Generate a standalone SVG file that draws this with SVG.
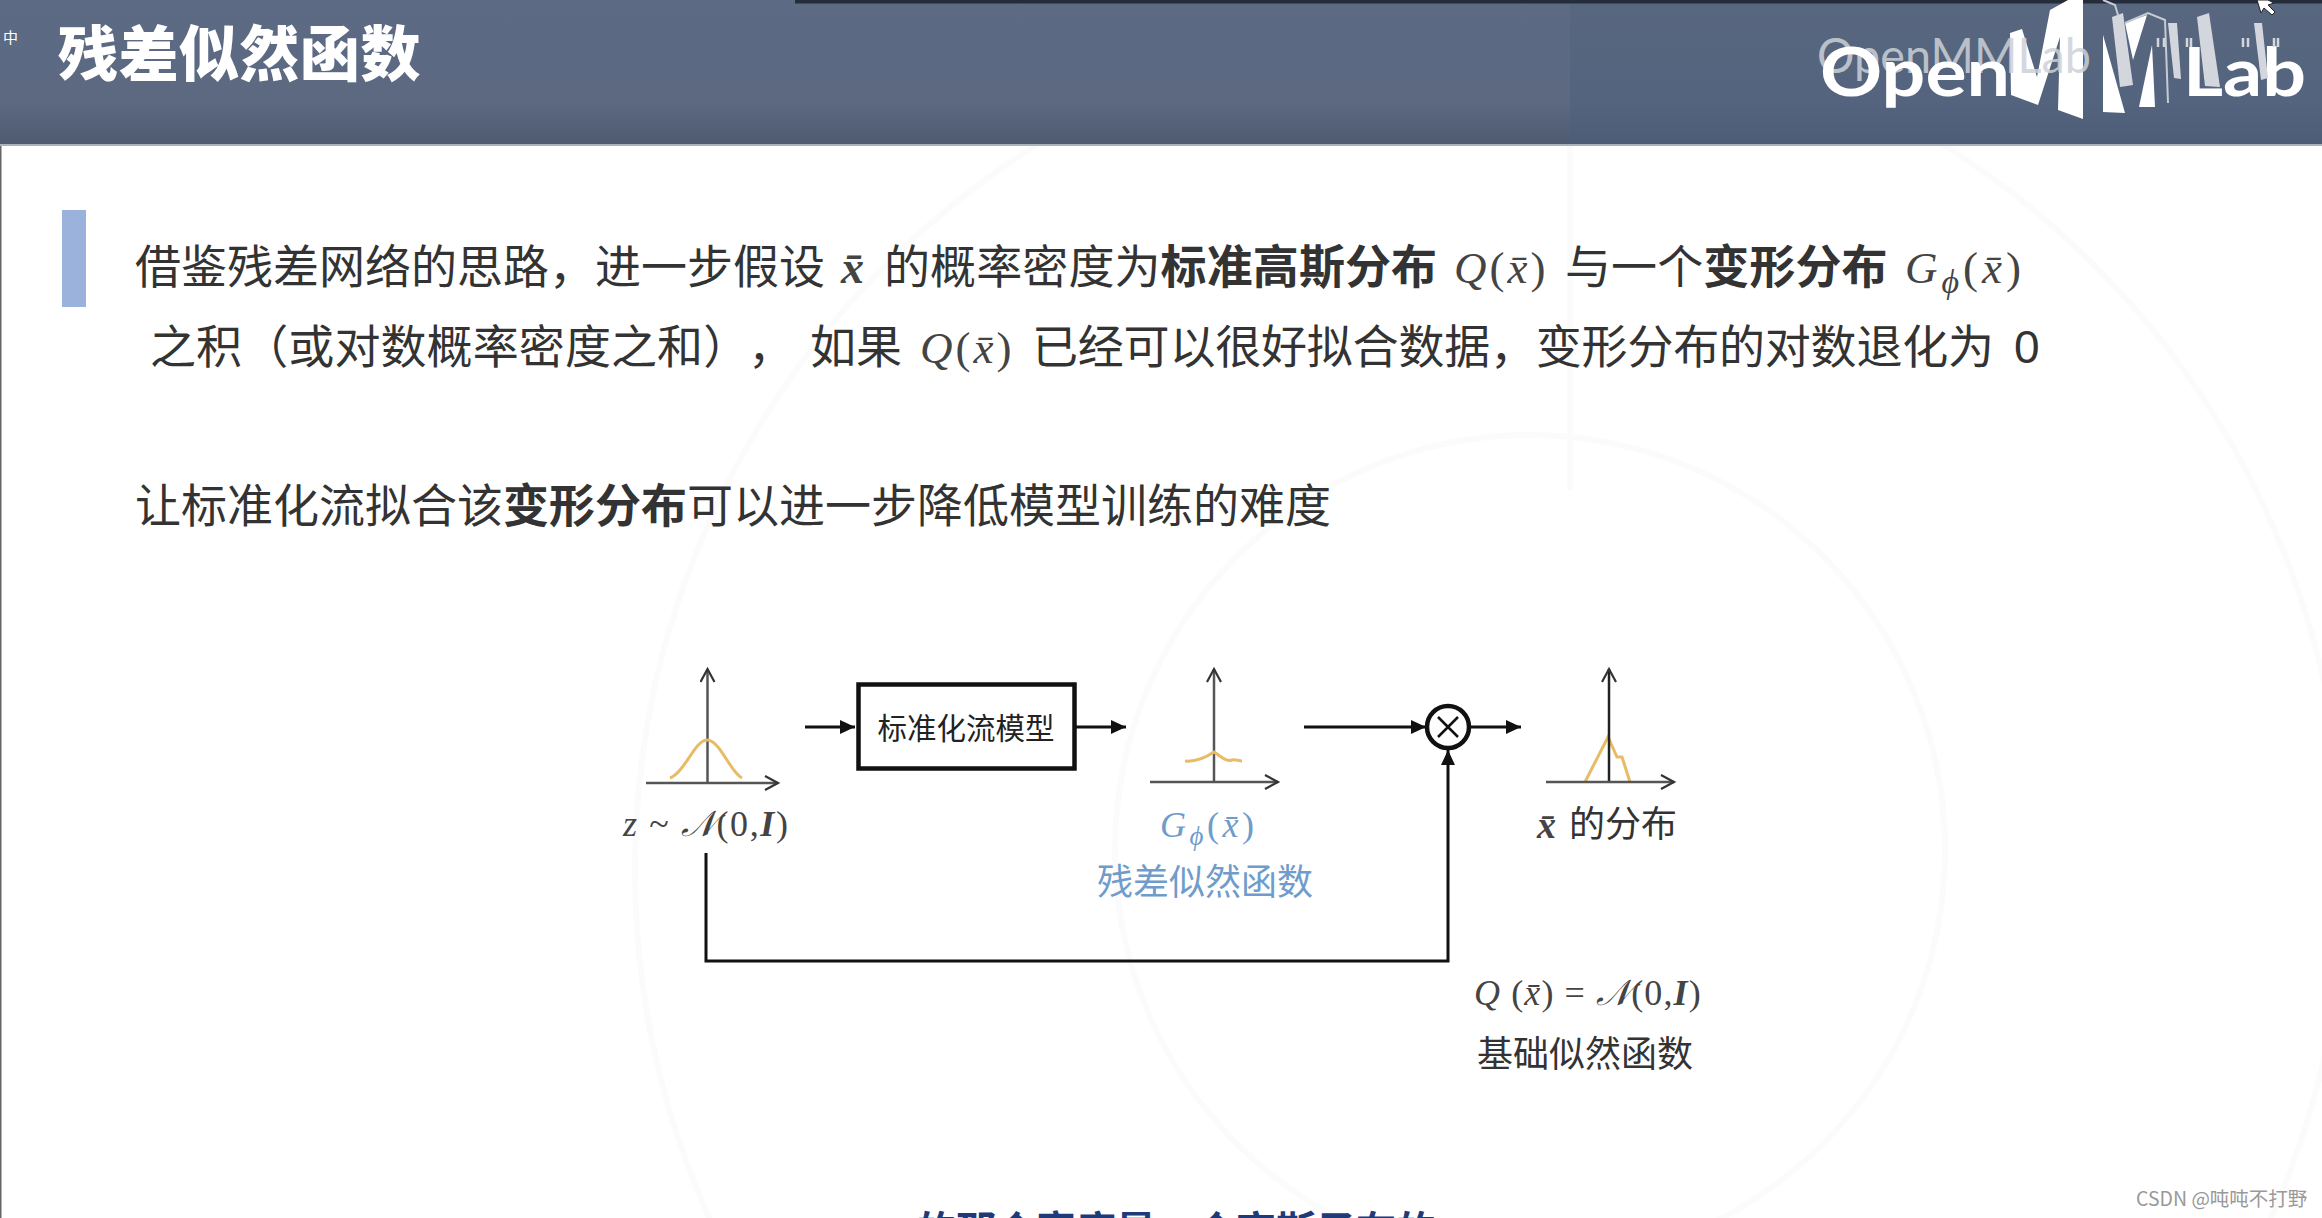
<svg xmlns="http://www.w3.org/2000/svg" width="2322" height="1218" viewBox="0 0 2322 1218">
<defs>
<linearGradient id="hd" x1="0" y1="0" x2="0" y2="1"><stop offset="0" stop-color="#5d6a84"/><stop offset="0.7" stop-color="#5c6981"/><stop offset="1" stop-color="#4e5a70"/></linearGradient>
<linearGradient id="hd2" x1="0" y1="0" x2="0" y2="1"><stop offset="0" stop-color="#58677f"/><stop offset="0.7" stop-color="#55647e"/><stop offset="1" stop-color="#4d5c76"/></linearGradient>
<marker id="solid" markerWidth="20" markerHeight="20" refX="15" refY="7" orient="auto" markerUnits="userSpaceOnUse"><path d="M0,0 L15,7 L0,14 Z" fill="#111"/></marker>
<marker id="open" markerWidth="24" markerHeight="24" refX="14" refY="8" orient="auto" markerUnits="userSpaceOnUse"><path d="M1,1 L14,8 L1,15" fill="none" stroke="#333" stroke-width="2.2"/></marker>
</defs>
<style>
text{font-family:"Noto Sans CJK SC","Liberation Sans",sans-serif;fill:#333;font-weight:400}
.b{font-size:46px;letter-spacing:0.1px}
.s{font-weight:700}
.m{font-family:"Liberation Serif","DejaVu Serif",serif;font-style:italic;font-size:36px;fill:#444;letter-spacing:1.6px}
.mt{font-size:45px;letter-spacing:3px}
.mb{font-weight:700;font-style:italic}
.r{font-style:normal}
.l{font-size:36px}
.blue{fill:#6f9cca}
.ax{stroke:#555;stroke-width:2.5;fill:none}
.cv{stroke:#e8bb66;stroke-width:3;fill:none}
.c{stroke:#111;stroke-width:3;fill:none}
.arc{stroke:#fbfbfb;stroke-width:6;fill:none}
.lg{fill:#fff}
.lg2{fill:#d3d7dd}
</style>
<rect width="2322" height="1218" fill="#fff"/>
<g id="background">
<circle cx="1490" cy="870" r="855" class="arc"/>
<circle cx="1530" cy="850" r="415" class="arc"/>
<path d="M1570 146V490" class="arc"/>
<rect x="0" y="146" width="1.5" height="1072" fill="#666"/>
</g>
<g id="header">
<rect width="2322" height="146" fill="url(#hd)"/>
<rect x="1570" width="752" height="146" fill="url(#hd2)"/>
<rect y="144" width="2322" height="2" fill="#aab2c0"/>
<rect x="795" width="1527" height="3.500" fill="#252c3a"/>
<text x="3" y="43" style="font-size:15px;fill:#fff">中</text>
<text x="58" y="76" style="font-size:60px;font-weight:900;fill:#fff;letter-spacing:0.5px">残差似然函数</text>
<path d="M2257 0L2261 13L2264 8L2272 15L2275 12L2268 5L2274 3L2268 0Z" fill="#fff" stroke="#222" stroke-width="1"/>
</g>
<g id="logo">
<path class="lg" d="M2010 33L2022 29L2037 77L2050 10L2068 0L2083 0L2083 119L2058 110L2060 37L2038 105L2011 95Z"/>
<path class="lg" d="M2103 35L2125 113L2103 112Z"/>
<path class="lg" d="M2125 23L2147 15L2133 60Z"/>
<path class="lg" d="M2152 45L2155 107L2139 107Z"/>
<text x="1817" y="73" style="font-family:Lato,'Liberation Sans',sans-serif;font-size:48px;fill:#cdd1d8;fill-opacity:.85" textLength="274" lengthAdjust="spacingAndGlyphs">OpenMMLab</text>
<text x="1820" y="96" style="font-family:Lato,'Liberation Sans',sans-serif;font-size:66px;font-weight:700;fill:#fff" textLength="190" lengthAdjust="spacingAndGlyphs">Open</text>
<text x="2183" y="96" style="font-family:Lato,'Liberation Sans',sans-serif;font-size:66px;font-weight:700;fill:#fff" textLength="123" lengthAdjust="spacingAndGlyphs">Lab</text>
<path d="M2103 0L2115 5L2118 15M2125 23L2148 13L2165 20L2168 103" fill="none" stroke="#c5cbd4" stroke-width="2"/>
<path class="lg2" d="M2112 17L2123 13L2133 85L2120 87Z"/>
<path class="lg2" d="M2168 23L2177 23L2181 79L2174 78Z"/>
<path class="lg2" d="M2197 17L2209 13L2220 87L2205 86Z"/>
<path class="lg2" d="M2254 23L2262 23L2268 78L2261 80Z"/>
<path d="M2158 38v9M2164 38v9M2187 38v9M2191 38v9M2243 38v9M2248 38v9M2274 38v9M2278 38v9" stroke="#d3d7dd" stroke-width="2.500"/>
</g>
<g id="body">
<rect x="62" y="210" width="24" height="97" fill="#9bb3dc"/>
<text class="b" x="135" y="283" style="letter-spacing:0">借鉴残差网络的思路，进一步假设</text>
<text class="m mt" x="841" y="283" style="font-weight:700;font-size:46px">x̄</text>
<text class="b" x="884" y="283">的概率密度为<tspan class="s">标准高斯分布</tspan></text>
<text class="m mt" x="1454" y="283">Q<tspan class="r">(</tspan>x̄<tspan class="r">)</tspan></text>
<text class="b" x="1565" y="283">与一个<tspan class="s">变形分布</tspan></text>
<text class="m mt" x="1905" y="283" style="letter-spacing:4px">G<tspan font-size="34" dy="10">ϕ</tspan><tspan class="r" dy="-10">(</tspan>x̄<tspan class="r">)</tspan></text>
<text class="b" x="150" y="363">之积（或对数概率密度之和）</text>
<text class="b" x="748" y="363">，</text>
<text class="b" x="810" y="363">如果</text>
<text class="m mt" x="920" y="363">Q<tspan class="r">(</tspan>x̄<tspan class="r">)</tspan></text>
<text class="b" x="1032" y="363" style="letter-spacing:-0.2px">已经可以很好拟合数据，变形分布的对数退化为</text>
<text class="b" x="2014" y="363" style="font-family:'Liberation Sans',sans-serif">0</text>
<text class="b" x="135" y="522" style="letter-spacing:0">让标准化流拟合该<tspan class="s">变形分布</tspan>可以进一步降低模型训练的难度</text>
<text x="916" y="1245" style="font-size:40px;font-weight:700;fill:#1f3a78">的那个密度是一个高斯子布的</text>
<text x="2136" y="1206" style="font-size:19.500px;fill:#999">CSDN @吨吨不打野</text>
</g>
<g id="connectors">
<path class="c" d="M805 727H855" marker-end="url(#solid)"/>
<path class="c" d="M1076 727H1126" marker-end="url(#solid)"/>
<path class="c" d="M1304 727H1426" marker-end="url(#solid)"/>
<path class="c" d="M1470 727H1521" marker-end="url(#solid)"/>
<path class="c" d="M706 853V961H1448V750" marker-end="url(#solid)"/>
</g>
<g id="node-standard-gaussian">
<path class="ax" d="M707.500 783V669" marker-end="url(#open)"/>
<path class="ax" d="M646 783H778" marker-end="url(#open)"/>
<path class="cv" d="M670 778C685 772 695 740 707 740C720 740 730 772 742 778"/>
<text class="m" x="623" y="836">z <tspan class="r">~</tspan> <tspan>𝒩</tspan><tspan class="r">(0,</tspan><tspan class="mb">I</tspan><tspan class="r">)</tspan></text>
</g>
<g id="node-flow-model">
<rect x="858.500" y="684.500" width="216" height="84" fill="#fff" stroke="#111" stroke-width="4.500"/>
<text x="966" y="739" text-anchor="middle" style="font-size:29.500px;fill:#222">标准化流模型</text>
</g>
<g id="node-residual-likelihood">
<path class="ax" d="M1214 782V669" marker-end="url(#open)"/>
<path class="ax" d="M1150 782H1278" marker-end="url(#open)"/>
<path class="cv" d="M1185 761C1195 762 1205 758 1214 752C1222 757 1226 762 1232 760C1236 759 1238 761 1242 761"/>
<text class="m blue" x="1160" y="837" style="letter-spacing:3.500px">G<tspan font-size="27" dy="8">ϕ</tspan><tspan class="r" dy="-8">(</tspan>x̄<tspan class="r">)</tspan></text>
<text class="l blue" x="1097" y="895">残差似然函数</text>
</g>
<g id="node-multiply">
<circle cx="1448" cy="727" r="21" fill="#fff" stroke="#111" stroke-width="4.500"/>
<path d="M1438 717L1458 737M1458 717L1438 737" stroke="#111" stroke-width="2.500"/>
</g>
<g id="node-x-distribution">
<path class="cv" d="M1585 782L1608 737L1617 757L1622 757L1630 782"/>
<path class="ax" d="M1609 782V669" marker-end="url(#open)" style="stroke:#222"/>
<path class="ax" d="M1546 782H1674" marker-end="url(#open)"/>
<text class="m mb" x="1537" y="838" style="font-size:38px">x̄</text>
<text class="l" x="1569" y="837">的分布</text>
</g>
<g id="node-base-likelihood">
<text class="m" x="1474" y="1005" style="letter-spacing:1.100px">Q <tspan class="r">(</tspan>x̄<tspan class="r">) = </tspan><tspan>𝒩</tspan><tspan class="r">(0,</tspan><tspan class="mb">I</tspan><tspan class="r">)</tspan></text>
<text class="l" x="1477" y="1067">基础似然函数</text>
</g>
</svg>
